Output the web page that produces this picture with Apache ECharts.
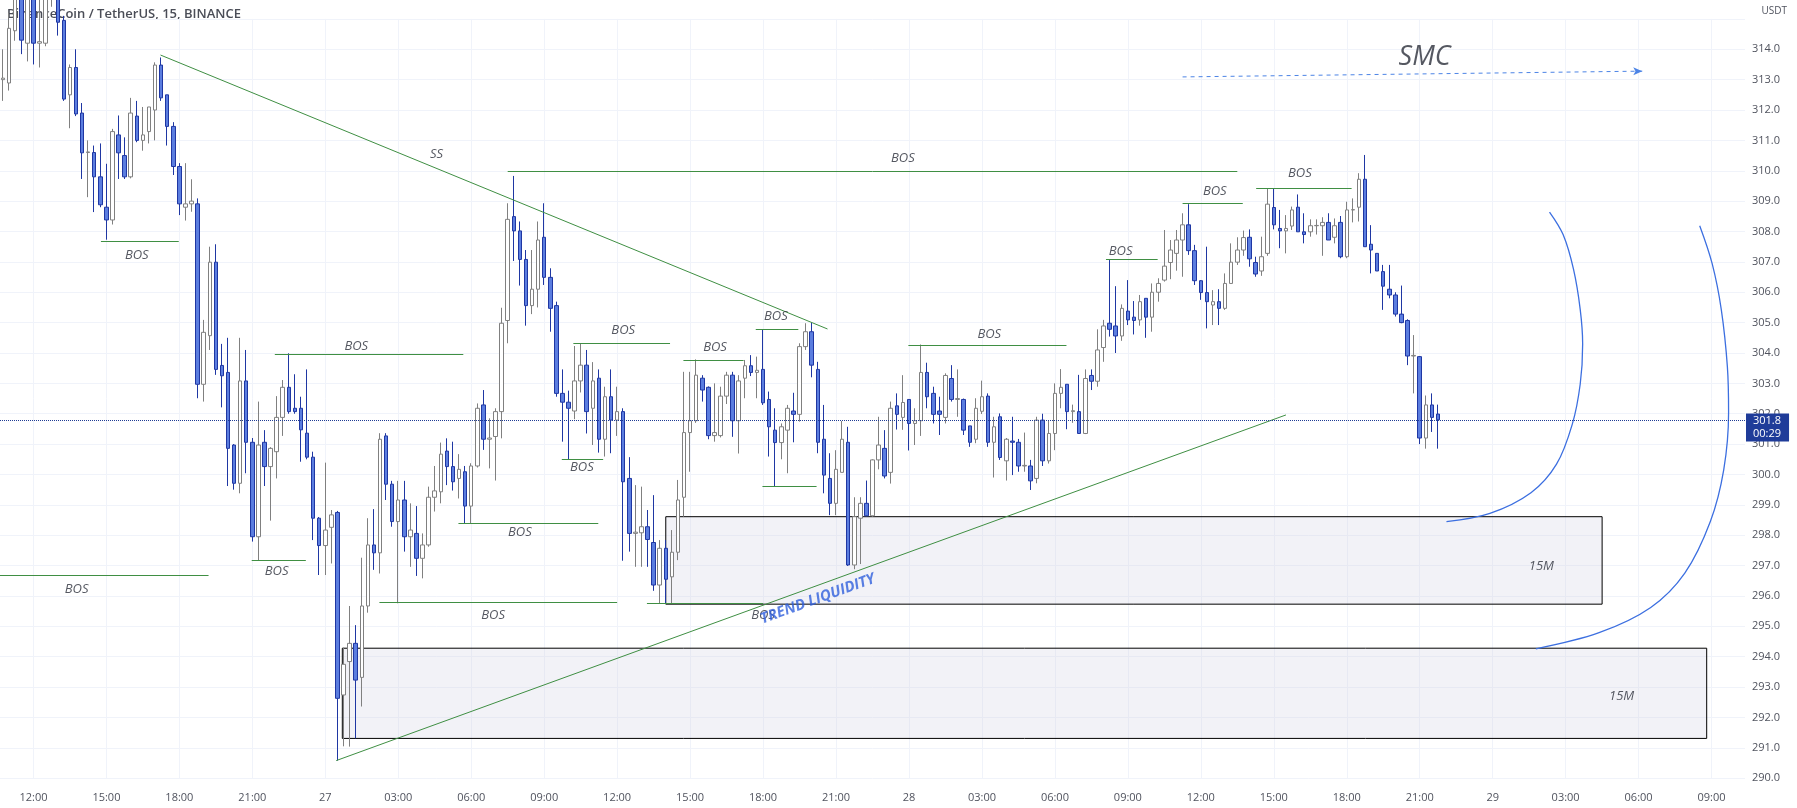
<!DOCTYPE html>
<html><head><meta charset="utf-8">
<script src="https://cdn.jsdelivr.net/npm/echarts/dist/echarts.min.js"></script>
<style>html,body{margin:0;padding:0;background:#fff}#c{width:1797px;height:808px}</style>
</head><body><div id="c"></div>
<script>
// ---------- DATA ----------
// 15-minute slots starting 26th 10:45, last drawn slot 29th 10:15
const START_DAY = 26, START_MINUTE = 10 * 60 + 45, SLOT_COUNT = 287, SLOT_MIN = 15;

const opens = [
313.0,312.89,314.61,316.2,314.2,316.1,314.2,314.2,315.8,316.2,
314.95,312.5,313.4,311.9,310.6,310.6,309.8,308.8,308.38,311.18,
310.5,309.8,311.8,311.0,311.29,312.0,313.48,312.5,311.46,310.14,
308.8,308.91,308.91,302.97,304.57,306.99,303.59,303.36,300.97,299.71,
303.08,301.06,297.95,301.06,300.26,300.75,301.88,302.87,302.18,302.18,
301.36,300.57,298.56,297.66,298.26,298.75,292.74,293.84,294.44,293.32,
295.67,297.68,297.42,301.27,299.68,298.45,299.16,297.95,298.06,297.24,
297.68,299.25,299.43,300.77,300.26,299.87,300.09,298.96,300.28,302.29,
301.16,301.25,302.07,305.07,308.49,308.02,307.08,305.56,306.1,307.81,
306.49,305.56,302.67,302.38,302.09,303.08,303.6,302.18,303.17,301.16,
302.56,301.79,302.07,299.87,298.06,298.08,298.28,297.76,296.36,297.57,
296.63,297.44,299.25,301.38,301.77,303.17,302.87,301.28,301.28,302.58,
303.27,301.77,303.17,303.58,303.36,303.46,302.47,301.46,301.05,301.46,
302.09,301.98,304.21,304.7,303.46,301.16,299.87,299.05,300.07,301.06,
297.02,298.56,299.05,298.64,300.48,300.86,300.07,302.26,301.88,302.47,
301.68,301.77,303.36,302.67,302.09,301.88,303.16,302.47,302.47,301.6,
301.16,302.08,302.58,301.06,301.9,300.45,301.1,301.06,300.28,300.28,
299.87,301.79,300.45,301.35,302.67,302.97,302.07,302.07,301.35,303.26,
303.07,304.18,304.98,304.89,304.56,305.38,305.18,305.09,305.8,305.18,
306.0,306.4,306.98,307.28,307.72,308.22,307.37,306.38,305.99,305.58,
305.69,305.47,306.29,306.99,307.39,307.81,306.98,306.7,307.28,308.79,
308.1,308.02,308.18,308.8,307.99,307.99,308.19,308.19,308.3,307.81,
308.3,307.17,308.71,308.8,309.72,307.58,307.28,306.68,306.1,305.91,
305.28,305.07,303.9,303.88,301.2,302.29,301.99];

const closes = [
313.05,314.69,316.0,314.3,316.0,314.2,314.25,315.8,316.4,314.89,
312.36,313.4,311.87,310.59,310.62,309.8,308.88,308.38,311.29,310.59,
309.8,311.9,311.0,311.18,312.1,313.48,312.4,311.46,310.14,308.91,
308.91,309.0,302.97,304.68,306.99,303.46,303.25,300.86,299.71,303.08,
301.06,297.95,300.97,300.26,300.86,301.88,302.87,302.07,302.07,301.47,
300.57,298.56,297.66,298.17,298.67,292.63,293.75,294.44,293.23,295.67,
297.68,297.42,301.16,299.68,298.45,299.16,297.95,298.17,297.24,297.68,
299.25,299.46,300.67,300.26,299.76,300.17,298.96,300.28,302.18,301.16,
301.2,302.07,304.98,308.4,308.02,307.08,305.56,306.1,307.72,306.49,
305.47,302.67,302.38,302.18,303.08,303.6,302.07,303.08,301.16,302.56,
301.79,302.07,299.76,298.06,298.1,298.28,297.86,296.36,297.57,296.55,
297.44,299.16,301.38,301.77,303.27,302.78,301.28,301.38,302.58,303.27,
301.77,303.08,303.58,303.36,303.43,302.36,301.57,301.05,301.57,302.18,
301.98,304.21,304.7,303.6,301.06,299.98,299.05,300.17,301.16,297.02,
298.61,299.05,298.64,300.48,300.97,299.95,302.18,301.98,302.37,301.68,
301.77,303.36,302.56,301.98,301.98,303.26,302.47,302.5,301.46,301.06,
302.18,302.56,301.06,301.57,300.56,301.16,301.06,300.28,300.3,299.79,
301.79,300.45,301.35,302.67,302.87,302.07,302.1,301.35,303.16,303.07,
304.1,304.89,304.78,304.56,305.47,305.09,305.07,305.69,305.18,306.0,
306.29,306.86,307.39,307.72,308.22,307.37,306.38,305.99,305.69,305.69,
305.47,306.29,306.99,307.39,307.8,307.1,306.6,307.17,308.9,308.22,
308.02,308.1,308.71,307.99,307.9,308.19,308.2,308.3,307.72,308.19,
307.17,308.71,308.72,309.72,307.5,307.39,306.7,306.2,305.91,305.28,
305.0,303.9,303.92,301.2,302.29,301.88,301.8];

const lows = [
312.3,312.64,314.28,313.84,313.6,313.5,313.4,314.1,315.4,314.45,
312.3,311.4,311.8,309.73,309.13,308.64,308.8,307.73,308.23,309.73,
309.73,309.75,310.94,310.66,310.9,311.0,312.3,310.83,309.86,308.54,
308.36,308.65,302.51,302.4,304.1,303.28,302.21,299.62,299.5,299.38,
300.04,297.79,297.18,299.62,298.48,299.87,301.27,302.0,302.0,300.42,
300.5,297.84,296.69,296.69,297.07,290.58,291.05,291.04,291.31,292.36,
295.45,296.86,296.74,299.16,298.28,295.76,297.46,296.96,296.66,296.58,
297.62,298.78,299.05,299.65,299.47,299.21,298.39,298.39,300.23,300.81,
300.2,299.8,301.19,304.32,307.03,306.22,304.9,305.28,305.5,306.24,
304.7,302.56,301.08,300.5,301.82,302.7,301.35,300.97,300.72,300.59,
300.7,301.27,297.16,297.46,296.96,296.96,296.96,296.17,295.76,295.76,
295.76,297.18,298.61,300.09,301.7,302.4,301.16,301.08,301.22,302.32,
301.24,300.69,302.51,303.24,302.51,302.29,300.59,299.6,300.5,300.04,
301.06,301.74,304.1,303.2,300.7,299.38,298.66,298.66,300.07,296.99,
296.88,297.05,298.62,298.61,300.17,299.87,299.7,301.48,301.47,300.79,
300.97,301.27,302.18,301.68,301.3,301.68,302.4,301.9,301.3,300.91,
301.03,301.99,300.91,299.9,300.48,299.8,299.98,300.09,300.09,299.49,
299.71,300.28,300.36,300.8,302.18,301.49,301.7,301.35,301.33,302.78,
302.89,303.71,304.54,304.0,304.4,304.92,304.61,304.9,304.5,304.7,
305.69,306.35,306.43,306.71,306.51,307.23,306.24,305.75,304.81,304.92,
304.92,305.42,306.29,306.9,307.2,306.84,306.51,306.54,307.2,308.07,
307.45,307.28,308.05,307.99,307.61,307.83,307.9,307.2,307.72,307.61,
307.12,307.12,308.3,308.33,307.5,306.62,306.7,305.42,305.8,305.2,
304.98,303.6,302.67,301.0,300.85,301.4,300.85];

const highs = [
314.0,315.2,316.3,316.4,316.3,316.4,315.9,316.2,316.8,316.5,
315.1,313.5,314.0,312.23,311.0,310.83,310.9,310.23,311.38,311.82,
311.1,312.4,312.3,312.1,312.1,313.57,313.73,312.5,311.6,310.25,
310.25,309.72,309.09,305.09,307.5,307.58,304.3,304.5,301.0,304.5,
304.1,301.2,302.4,301.46,300.9,302.58,303.11,303.99,303.3,302.56,
303.46,300.75,298.6,300.39,298.83,298.8,294.3,295.67,295.04,297.26,
298.56,298.86,301.36,301.36,299.79,299.79,299.79,299.05,298.96,298.06,
299.6,300.28,301.05,301.19,301.08,300.67,300.28,300.37,302.34,302.78,
301.85,302.18,305.49,308.93,309.83,308.33,307.39,307.39,308.33,308.93,
306.79,305.69,303.46,302.76,304.23,304.32,304.1,303.7,303.46,302.89,
303.46,302.89,302.18,300.57,299.65,299.6,298.83,299.32,297.84,297.84,
298.17,299.82,303.38,303.38,303.79,303.27,302.9,303.0,302.89,303.38,
303.38,303.27,303.77,303.93,303.88,304.78,302.73,302.18,301.68,302.29,
302.69,304.32,304.98,305.0,303.71,302.29,300.7,300.8,301.76,301.57,
299.25,299.25,299.8,300.5,301.9,301.46,302.4,302.67,303.27,302.47,
302.18,304.28,303.68,302.89,302.56,303.33,303.6,303.46,302.5,301.6,
302.51,303.09,302.67,301.9,302.01,301.2,301.9,301.17,301.38,300.48,
301.9,302.0,301.79,303.0,303.47,302.97,302.3,303.28,303.46,303.46,
304.78,305.09,307.06,306.2,305.6,306.4,305.71,305.91,305.8,306.29,
306.46,308.05,307.72,308.05,308.6,308.9,307.56,306.4,307.5,306.07,
306.1,306.62,307.61,307.81,308.03,308.07,307.17,307.83,309.42,309.42,
308.71,308.54,308.82,309.22,308.6,308.4,308.4,308.47,308.6,308.43,
308.51,308.98,309.09,309.92,310.52,308.21,307.28,306.9,306.9,306.0,
306.22,305.11,304.59,303.9,302.6,302.67,302.3];

const lastPrice = 301.8;
const countdown = '00:29';
const priceTicks = { min: 290, max: 315, step: 1 };

// drawings, in (slot index, price)
const trendLines = [
  [[25.9, 313.81], [135.6, 304.79]],
  [[54.8, 290.58], [211.0, 301.96]]
];
const bosLines = [ // [fromSlot, toSlot, price]
  [83, 203, 309.97], [16.1, 28.9, 307.68], [44.7, 75.7, 303.97], [40.9, 49.8, 297.18],
  [-0.5, 33.8, 296.67], [61.9, 101, 295.78], [74.9, 97.9, 298.38], [91.9, 98.7, 300.5],
  [93.8, 109.7, 304.32], [111.9, 121.8, 303.77], [123.8, 130.8, 304.78], [124.9, 133.8, 299.62],
  [148.9, 174.9, 304.26], [181.4, 189.9, 307.1], [194.0, 203.9, 308.93], [206.1, 221.8, 309.42],
  [105.9, 125, 295.76]
];
const textLabels = [ // [text, slot, price]
  ['SS', 71.3, 310.55], ['BOS', 148, 310.42], ['BOS', 22.0, 307.21], ['BOS', 58.1, 304.21],
  ['BOS', 45.0, 296.8], ['BOS', 12.1, 296.22], ['BOS', 80.6, 295.37], ['BOS', 85.0, 298.08],
  ['BOS', 95.2, 300.23], ['BOS', 102.0, 304.76], ['BOS', 117.1, 304.19], ['BOS', 127.1, 305.2],
  ['BOS', 125.0, 295.37], ['BOS', 162.2, 304.61], ['BOS', 183.8, 307.34], ['BOS', 199.3, 309.31],
  ['BOS', 213.3, 309.92], ['15M', 253, 296.98], ['15M', 266.2, 292.71]
];
const zones = [ // [fromSlot, topPrice, toSlot, bottomPrice]
  [109.0, 298.61, 263.0, 295.73],
  [55.8, 294.28, 280.2, 291.31]
];
const trendLabel = ['TREND LIQUIDITY', 134, 295.9];
const smcLabel = ['SMC', 233.8, 313.74];
const smcArrow = [[194.0, 313.09], [269.6, 313.28]];
const arcInner = [[254.35, 308.64], [256.6, 307.89], [258.3, 306.75], [259.4, 305.43], [259.8, 304.3],
  [259.4, 302.98], [258.1, 301.66], [255.5, 300.34], [251.3, 299.4], [244.55, 298.72], [237.4, 298.45]];
const arcOuter = [[279.05, 308.19], [281.1, 306.94], [282.6, 305.43], [283.6, 303.55], [283.8, 302.04],
  [283.0, 300.15], [280.8, 298.45], [276.6, 296.75], [271.0, 295.62], [262.5, 294.79], [252.1, 294.26]];
const priceTagShift = 0.25; // tag box sits a little under the price line

// ---------- BUILD ----------
const pad = n => (n < 10 ? '0' : '') + n;
const categories = [];
for (let i = 0; i < SLOT_COUNT; i++) {
  const m = START_MINUTE + i * SLOT_MIN;
  const d = START_DAY + Math.floor(m / 1440), mm = m % 1440;
  categories.push(d + ' ' + pad(Math.floor(mm / 60)) + ':' + pad(mm % 60));
}
const isMajor = (idx) => {
  const t = categories[idx].split(' ')[1];
  const h = +t.slice(0, 2), mi = +t.slice(3);
  return mi === 0 && h % 3 === 0;
};
const candles = opens.map((o, i) => [o, closes[i], lows[i], highs[i]]);

const GREEN = '#3f8f43';
const chart = echarts.init(document.getElementById('c'), null, { renderer: 'canvas' });
const FONT = '"Open Sans", "Noto Sans", sans-serif';

chart.setOption({
  animation: false,
  backgroundColor: '#ffffff',
  grid: { left: 0, right: 52, top: 18.9, bottom: 29.8, containLabel: false },
  xAxis: [{
    type: 'category', data: categories, boundaryGap: true,
    axisLine: { show: false }, axisTick: { show: false, alignWithLabel: true },
    axisLabel: {
      interval: (i) => isMajor(i), color: '#50535e', fontSize: 11, margin: 14, fontFamily: FONT,
      formatter: (v) => { const [d, t] = v.split(' '); return t === '00:00' ? d : t; }
    },
    splitLine: { show: true, interval: (i) => isMajor(i), alignWithLabel: true, lineStyle: { color: '#f0f3fa', width: 1 } }
  }, {
    type: 'value', min: -0.5, max: SLOT_COUNT - 0.5, show: false
  }],
  yAxis: {
    type: 'value', position: 'right', min: priceTicks.min, max: priceTicks.max, interval: priceTicks.step,
    axisLine: { show: false }, axisTick: { show: false },
    axisLabel: { color: '#50535e', fontSize: 11, margin: 7, fontFamily: FONT,
      formatter: (v) => (v === priceTicks.max ? '' : v.toFixed(1)) },
    splitLine: { lineStyle: { color: '#f0f3fa', width: 1 } }
  },
  graphic: [
    { type: 'text', left: 7, top: 8, z: 0, style: { text: 'BinanceCoin / TetherUS, 15, BINANCE', fill: '#4a4d57', font: '600 13px ' + FONT } },
    { type: 'text', right: 10, top: 6, style: { text: 'USDT', fill: '#50535e', font: '10px ' + FONT } }
  ],
  series: [
    {
      type: 'candlestick', xAxisIndex: 0, yAxisIndex: 0, data: candles, clip: false, z: 3,
      barWidth: 4,
      itemStyle: { color: '#ffffff', color0: '#5b7ddf', borderColor: '#808080', borderColor0: '#1f37a3', borderWidth: 1 },
      markLine: {
        silent: true, symbol: ['none', 'none'], z: 6,
        lineStyle: { color: '#1f3c94', type: 'dotted', width: 1 },
        label: {
          show: true, position: 'end', distance: 1,
          formatter: lastPrice.toFixed(1) + '\n' + countdown,
          color: '#ffffff', backgroundColor: '#1f3c99', fontSize: 11, lineHeight: 13,
          padding: [1, 8, 1, 7], fontFamily: FONT
        },
        data: [
          { yAxis: lastPrice, label: { show: false } },
          { yAxis: lastPrice - priceTagShift, lineStyle: { color: 'rgba(0,0,0,0)' } }
        ]
      }
    },
    {
      type: 'scatter', xAxisIndex: 1, yAxisIndex: 0, z: 6, symbolSize: 1,
      itemStyle: { color: 'rgba(0,0,0,0)' }, silent: true,
      data: textLabels.map(l => ({ name: l[0], value: [l[1], l[2]] })),
      label: { show: true, position: 'inside', formatter: '{b}', color: '#2a2e39', fontSize: 13, fontStyle: 'italic', fontFamily: FONT },
      markLine: {
        silent: true, symbol: ['none', 'none'], z: 5, label: { show: false },
        lineStyle: { color: GREEN, width: 1, type: 'solid' },
        data: trendLines.map(t => [{ coord: t[0] }, { coord: t[1] }])
          .concat(bosLines.map(b => [{ coord: [b[0], b[2]] }, { coord: [b[1], b[2]] }]))
      },
      markArea: {
        silent: true, z: 1, label: { show: false },
        itemStyle: { color: 'rgba(212,212,230,0.3)', borderColor: '#000000', borderWidth: 1 },
        data: zones.map(z => [{ coord: [z[0], z[1]] }, { coord: [z[2], z[3]] }])
      }
    },
    {
      type: 'scatter', xAxisIndex: 1, yAxisIndex: 0, z: 7, symbolSize: 1, silent: true,
      itemStyle: { color: 'rgba(0,0,0,0)' },
      data: [{ name: trendLabel[0], value: [trendLabel[1], trendLabel[2]] }],
      label: { show: true, position: 'inside', formatter: '{b}', rotate: 20, color: '#2f5fdc',
        fontSize: 15, fontWeight: 'bold', fontStyle: 'italic', fontFamily: FONT }
    },
    {
      type: 'scatter', xAxisIndex: 1, yAxisIndex: 0, z: 7, symbolSize: 1, silent: true,
      itemStyle: { color: 'rgba(0,0,0,0)' },
      data: [{ name: smcLabel[0], value: [smcLabel[1], smcLabel[2]] }],
      label: { show: true, position: 'inside', formatter: '{b}', color: '#2a2e39',
        fontSize: 27, fontStyle: 'italic', fontFamily: FONT },
      markLine: {
        silent: true, z: 5, label: { show: false },
        symbol: ['none', 'arrow'], symbolSize: [6, 9],
        lineStyle: { color: '#4c84e6', width: 1, type: [4, 4] },
        data: [[{ coord: smcArrow[0] }, { coord: smcArrow[1] }]]
      }
    },
    {
      type: 'line', xAxisIndex: 1, yAxisIndex: 0, z: 5, smooth: 0.35, showSymbol: false, silent: true,
      lineStyle: { color: '#3c6fe0', width: 1.3 }, data: arcInner
    },
    {
      type: 'line', xAxisIndex: 1, yAxisIndex: 0, z: 5, smooth: 0.35, showSymbol: false, silent: true,
      lineStyle: { color: '#3c6fe0', width: 1.3 }, data: arcOuter
    }
  ]
});
</script></body></html>
